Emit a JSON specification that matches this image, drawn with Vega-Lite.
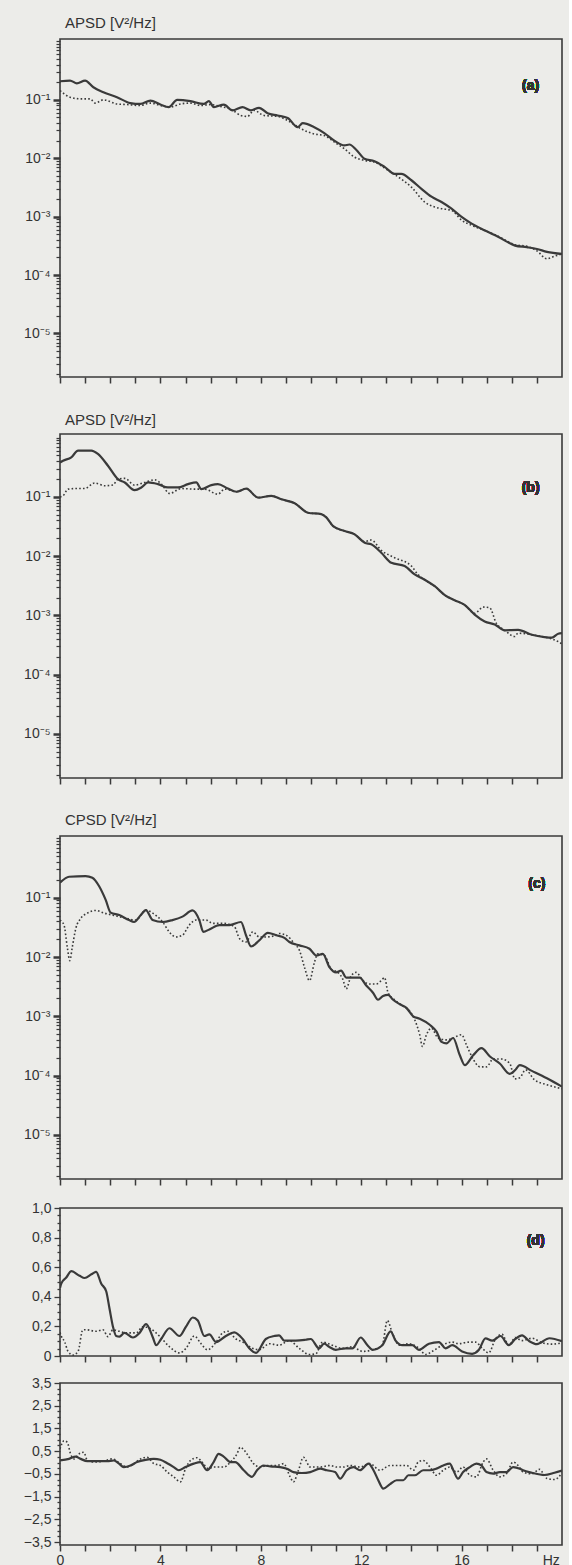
{
"$schema": "https://vega.github.io/schema/vega-lite/v6.json",
"background": "#ecece9",
"padding": {"top": 15, "left": 22, "right": 6, "bottom": 0},
"config": {
 "view": {"stroke": "#3a3a3a", "strokeWidth": 1.6},
 "axis": {"domain": false, "grid": false, "labelFont": "Liberation Sans", "labelFontSize": 14, "labelColor": "#333333", "tickColor": "#3a3a3a", "title": null, "labelPadding": 3},
 "title": {"font": "Liberation Sans", "fontSize": 15, "fontWeight": "normal", "anchor": "start", "frame": "group", "color": "#333333", "offset": 3, "dx": 5},
 "text": {"font": "Liberation Sans", "fontSize": 14, "fontWeight": "bold", "color": "#333333"}
},
"datasets": {
"a": [
{"f":0,"v":0.208,"s":"solid"},{"f":0.4,"v":0.214,"s":"solid"},{"f":0.67,"v":0.192,"s":"solid"},{"f":1.0,"v":0.214,"s":"solid"},{"f":1.33,"v":0.164,"s":"solid"},{"f":1.73,"v":0.135,"s":"solid"},{"f":2.27,"v":0.111,"s":"solid"},{"f":2.8,"v":0.088,"s":"solid"},{"f":3.2,"v":0.085,"s":"solid"},{"f":3.6,"v":0.097,"s":"solid"},{"f":4.0,"v":0.083,"s":"solid"},{"f":4.33,"v":0.075,"s":"solid"},{"f":4.67,"v":0.1,"s":"solid"},{"f":5.2,"v":0.095,"s":"solid"},{"f":5.73,"v":0.085,"s":"solid"},{"f":5.93,"v":0.095,"s":"solid"},{"f":6.13,"v":0.075,"s":"solid"},{"f":6.53,"v":0.083,"s":"solid"},{"f":6.87,"v":0.066,"s":"solid"},{"f":7.27,"v":0.075,"s":"solid"},{"f":7.6,"v":0.066,"s":"solid"},{"f":7.93,"v":0.073,"s":"solid"},{"f":8.27,"v":0.059,"s":"solid"},{"f":8.67,"v":0.054,"s":"solid"},{"f":9.07,"v":0.049,"s":"solid"},{"f":9.47,"v":0.034,"s":"solid"},{"f":9.67,"v":0.04,"s":"solid"},{"f":10.13,"v":0.034,"s":"solid"},{"f":10.53,"v":0.027,"s":"solid"},{"f":10.93,"v":0.02,"s":"solid"},{"f":11.33,"v":0.0166,"s":"solid"},{"f":11.53,"v":0.0172,"s":"solid"},{"f":11.8,"v":0.014,"s":"solid"},{"f":12.13,"v":0.0098,"s":"solid"},{"f":12.53,"v":0.0089,"s":"solid"},{"f":12.93,"v":0.0071,"s":"solid"},{"f":13.33,"v":0.0054,"s":"solid"},{"f":13.6,"v":0.0054,"s":"solid"},{"f":14.0,"v":0.0042,"s":"solid"},{"f":14.4,"v":0.003,"s":"solid"},{"f":14.8,"v":0.0022,"s":"solid"},{"f":15.2,"v":0.00178,"s":"solid"},{"f":15.6,"v":0.00137,"s":"solid"},{"f":16.0,"v":0.00099,"s":"solid"},{"f":16.4,"v":0.00076,"s":"solid"},{"f":16.93,"v":0.00058,"s":"solid"},{"f":17.47,"v":0.00045,"s":"solid"},{"f":18.13,"v":0.00032,"s":"solid"},{"f":18.6,"v":0.0003,"s":"solid"},{"f":19.0,"v":0.00028,"s":"solid"},{"f":19.4,"v":0.00025,"s":"solid"},{"f":20,"v":0.00023,"s":"solid"},
{"f":0,"v":0.144,"s":"dotted"},{"f":0.4,"v":0.111,"s":"dotted"},{"f":0.8,"v":0.104,"s":"dotted"},{"f":1.2,"v":0.104,"s":"dotted"},{"f":1.4,"v":0.088,"s":"dotted"},{"f":1.73,"v":0.1,"s":"dotted"},{"f":2.27,"v":0.085,"s":"dotted"},{"f":2.67,"v":0.083,"s":"dotted"},{"f":3.2,"v":0.08,"s":"dotted"},{"f":3.6,"v":0.088,"s":"dotted"},{"f":4.0,"v":0.08,"s":"dotted"},{"f":4.4,"v":0.075,"s":"dotted"},{"f":4.8,"v":0.085,"s":"dotted"},{"f":5.2,"v":0.088,"s":"dotted"},{"f":5.6,"v":0.08,"s":"dotted"},{"f":6.0,"v":0.083,"s":"dotted"},{"f":6.4,"v":0.077,"s":"dotted"},{"f":6.87,"v":0.067,"s":"dotted"},{"f":7.2,"v":0.054,"s":"dotted"},{"f":7.47,"v":0.052,"s":"dotted"},{"f":7.73,"v":0.066,"s":"dotted"},{"f":8.13,"v":0.054,"s":"dotted"},{"f":8.67,"v":0.052,"s":"dotted"},{"f":9.2,"v":0.041,"s":"dotted"},{"f":9.6,"v":0.032,"s":"dotted"},{"f":10.13,"v":0.026,"s":"dotted"},{"f":10.53,"v":0.0245,"s":"dotted"},{"f":10.93,"v":0.0189,"s":"dotted"},{"f":11.33,"v":0.0145,"s":"dotted"},{"f":11.73,"v":0.0105,"s":"dotted"},{"f":12.13,"v":0.0092,"s":"dotted"},{"f":12.53,"v":0.0086,"s":"dotted"},{"f":13.07,"v":0.0062,"s":"dotted"},{"f":13.47,"v":0.0048,"s":"dotted"},{"f":14.0,"v":0.0032,"s":"dotted"},{"f":14.53,"v":0.00178,"s":"dotted"},{"f":14.93,"v":0.00146,"s":"dotted"},{"f":15.2,"v":0.00137,"s":"dotted"},{"f":15.6,"v":0.00128,"s":"dotted"},{"f":16.0,"v":0.00087,"s":"dotted"},{"f":16.4,"v":0.00071,"s":"dotted"},{"f":16.93,"v":0.00058,"s":"dotted"},{"f":17.47,"v":0.00046,"s":"dotted"},{"f":18.13,"v":0.00033,"s":"dotted"},{"f":18.6,"v":0.00031,"s":"dotted"},{"f":19.0,"v":0.00026,"s":"dotted"},{"f":19.4,"v":0.00019,"s":"dotted"},{"f":19.7,"v":0.00021,"s":"dotted"},{"f":20,"v":0.00023,"s":"dotted"}
],
"b": [
{"f":0,"v":0.38,"s":"solid"},{"f":0.12,"v":0.407,"s":"solid"},{"f":0.45,"v":0.464,"s":"solid"},{"f":0.72,"v":0.603,"s":"solid"},{"f":1.25,"v":0.603,"s":"solid"},{"f":1.51,"v":0.529,"s":"solid"},{"f":1.91,"v":0.335,"s":"solid"},{"f":2.31,"v":0.199,"s":"solid"},{"f":2.58,"v":0.175,"s":"solid"},{"f":2.97,"v":0.13,"s":"solid"},{"f":3.24,"v":0.144,"s":"solid"},{"f":3.51,"v":0.175,"s":"solid"},{"f":3.9,"v":0.164,"s":"solid"},{"f":4.3,"v":0.144,"s":"solid"},{"f":4.7,"v":0.144,"s":"solid"},{"f":5.1,"v":0.164,"s":"solid"},{"f":5.43,"v":0.175,"s":"solid"},{"f":5.63,"v":0.135,"s":"solid"},{"f":6.03,"v":0.158,"s":"solid"},{"f":6.29,"v":0.164,"s":"solid"},{"f":6.69,"v":0.138,"s":"solid"},{"f":7.03,"v":0.122,"s":"solid"},{"f":7.42,"v":0.138,"s":"solid"},{"f":7.89,"v":0.097,"s":"solid"},{"f":8.42,"v":0.104,"s":"solid"},{"f":8.82,"v":0.091,"s":"solid"},{"f":9.35,"v":0.078,"s":"solid"},{"f":9.88,"v":0.054,"s":"solid"},{"f":10.41,"v":0.051,"s":"solid"},{"f":10.61,"v":0.045,"s":"solid"},{"f":10.88,"v":0.032,"s":"solid"},{"f":11.34,"v":0.0265,"s":"solid"},{"f":11.74,"v":0.0233,"s":"solid"},{"f":12.14,"v":0.0168,"s":"solid"},{"f":12.4,"v":0.0158,"s":"solid"},{"f":12.8,"v":0.0114,"s":"solid"},{"f":13.2,"v":0.0077,"s":"solid"},{"f":13.73,"v":0.0068,"s":"solid"},{"f":14.13,"v":0.0049,"s":"solid"},{"f":14.53,"v":0.004,"s":"solid"},{"f":14.93,"v":0.0031,"s":"solid"},{"f":15.33,"v":0.0022,"s":"solid"},{"f":15.72,"v":0.0018,"s":"solid"},{"f":16.12,"v":0.0015,"s":"solid"},{"f":16.52,"v":0.00103,"s":"solid"},{"f":16.92,"v":0.00079,"s":"solid"},{"f":17.32,"v":0.0007,"s":"solid"},{"f":17.72,"v":0.00056,"s":"solid"},{"f":18.25,"v":0.00057,"s":"solid"},{"f":18.8,"v":0.00047,"s":"solid"},{"f":19.3,"v":0.00043,"s":"solid"},{"f":19.6,"v":0.00042,"s":"solid"},{"f":19.85,"v":0.00049,"s":"solid"},{"f":20,"v":0.0005,"s":"solid"},
{"f":0,"v":0.1,"s":"dotted"},{"f":0.12,"v":0.104,"s":"dotted"},{"f":0.32,"v":0.135,"s":"dotted"},{"f":0.58,"v":0.138,"s":"dotted"},{"f":0.98,"v":0.138,"s":"dotted"},{"f":1.38,"v":0.171,"s":"dotted"},{"f":1.78,"v":0.154,"s":"dotted"},{"f":2.11,"v":0.158,"s":"dotted"},{"f":2.31,"v":0.199,"s":"dotted"},{"f":2.58,"v":0.205,"s":"dotted"},{"f":2.97,"v":0.158,"s":"dotted"},{"f":3.37,"v":0.175,"s":"dotted"},{"f":3.77,"v":0.194,"s":"dotted"},{"f":4.04,"v":0.164,"s":"dotted"},{"f":4.37,"v":0.114,"s":"dotted"},{"f":4.83,"v":0.138,"s":"dotted"},{"f":5.37,"v":0.135,"s":"dotted"},{"f":5.76,"v":0.135,"s":"dotted"},{"f":6.29,"v":0.111,"s":"dotted"},{"f":6.56,"v":0.135,"s":"dotted"},{"f":7.03,"v":0.122,"s":"dotted"},{"f":7.42,"v":0.138,"s":"dotted"},{"f":7.89,"v":0.097,"s":"dotted"},{"f":8.42,"v":0.104,"s":"dotted"},{"f":8.82,"v":0.091,"s":"dotted"},{"f":9.35,"v":0.078,"s":"dotted"},{"f":9.88,"v":0.054,"s":"dotted"},{"f":10.41,"v":0.051,"s":"dotted"},{"f":10.61,"v":0.045,"s":"dotted"},{"f":10.88,"v":0.032,"s":"dotted"},{"f":11.34,"v":0.0265,"s":"dotted"},{"f":11.74,"v":0.0233,"s":"dotted"},{"f":12.14,"v":0.0175,"s":"dotted"},{"f":12.4,"v":0.0187,"s":"dotted"},{"f":12.8,"v":0.0125,"s":"dotted"},{"f":13.33,"v":0.0094,"s":"dotted"},{"f":14.0,"v":0.0068,"s":"dotted"},{"f":14.26,"v":0.0049,"s":"dotted"},{"f":14.53,"v":0.004,"s":"dotted"},{"f":14.93,"v":0.0031,"s":"dotted"},{"f":15.33,"v":0.0022,"s":"dotted"},{"f":15.72,"v":0.0018,"s":"dotted"},{"f":16.12,"v":0.0015,"s":"dotted"},{"f":16.52,"v":0.00108,"s":"dotted"},{"f":16.65,"v":0.00117,"s":"dotted"},{"f":16.85,"v":0.00138,"s":"dotted"},{"f":17.12,"v":0.00134,"s":"dotted"},{"f":17.38,"v":0.00074,"s":"dotted"},{"f":17.72,"v":0.00056,"s":"dotted"},{"f":18.11,"v":0.00044,"s":"dotted"},{"f":18.25,"v":0.0005,"s":"dotted"},{"f":18.8,"v":0.00047,"s":"dotted"},{"f":19.3,"v":0.00043,"s":"dotted"},{"f":19.6,"v":0.0004,"s":"dotted"},{"f":19.85,"v":0.00036,"s":"dotted"},{"f":20,"v":0.00033,"s":"dotted"}
],
"c": [
{"f":0,"v":0.18,"s":"solid"},{"f":0.36,"v":0.226,"s":"solid"},{"f":1.02,"v":0.232,"s":"solid"},{"f":1.29,"v":0.217,"s":"solid"},{"f":1.56,"v":0.156,"s":"solid"},{"f":1.82,"v":0.092,"s":"solid"},{"f":2.02,"v":0.056,"s":"solid"},{"f":2.36,"v":0.051,"s":"solid"},{"f":2.75,"v":0.042,"s":"solid"},{"f":2.95,"v":0.039,"s":"solid"},{"f":3.22,"v":0.051,"s":"solid"},{"f":3.42,"v":0.062,"s":"solid"},{"f":3.69,"v":0.042,"s":"solid"},{"f":4.09,"v":0.039,"s":"solid"},{"f":4.48,"v":0.042,"s":"solid"},{"f":4.88,"v":0.048,"s":"solid"},{"f":5.28,"v":0.061,"s":"solid"},{"f":5.55,"v":0.042,"s":"solid"},{"f":5.71,"v":0.0266,"s":"solid"},{"f":5.95,"v":0.0292,"s":"solid"},{"f":6.35,"v":0.0346,"s":"solid"},{"f":6.75,"v":0.0346,"s":"solid"},{"f":7.21,"v":0.039,"s":"solid"},{"f":7.41,"v":0.0233,"s":"solid"},{"f":7.61,"v":0.0151,"s":"solid"},{"f":7.94,"v":0.0191,"s":"solid"},{"f":8.28,"v":0.0256,"s":"solid"},{"f":8.61,"v":0.0233,"s":"solid"},{"f":8.94,"v":0.021,"s":"solid"},{"f":9.14,"v":0.0179,"s":"solid"},{"f":9.54,"v":0.0157,"s":"solid"},{"f":9.94,"v":0.0138,"s":"solid"},{"f":10.21,"v":0.0106,"s":"solid"},{"f":10.47,"v":0.0113,"s":"solid"},{"f":10.74,"v":0.0067,"s":"solid"},{"f":11.0,"v":0.0055,"s":"solid"},{"f":11.2,"v":0.0059,"s":"solid"},{"f":11.4,"v":0.0045,"s":"solid"},{"f":11.67,"v":0.0045,"s":"solid"},{"f":11.94,"v":0.0045,"s":"solid"},{"f":12.2,"v":0.0033,"s":"solid"},{"f":12.47,"v":0.0025,"s":"solid"},{"f":12.67,"v":0.0019,"s":"solid"},{"f":12.87,"v":0.0022,"s":"solid"},{"f":13.07,"v":0.0023,"s":"solid"},{"f":13.27,"v":0.0019,"s":"solid"},{"f":13.54,"v":0.0016,"s":"solid"},{"f":13.8,"v":0.00139,"s":"solid"},{"f":14.07,"v":0.001,"s":"solid"},{"f":14.33,"v":0.00091,"s":"solid"},{"f":14.73,"v":0.00072,"s":"solid"},{"f":15.0,"v":0.00055,"s":"solid"},{"f":15.2,"v":0.00037,"s":"solid"},{"f":15.4,"v":0.00035,"s":"solid"},{"f":15.66,"v":0.00043,"s":"solid"},{"f":15.93,"v":0.00022,"s":"solid"},{"f":16.13,"v":0.00015,"s":"solid"},{"f":16.46,"v":0.00022,"s":"solid"},{"f":16.79,"v":0.00029,"s":"solid"},{"f":17.13,"v":0.00021,"s":"solid"},{"f":17.52,"v":0.00016,"s":"solid"},{"f":17.92,"v":0.000107,"s":"solid"},{"f":18.12,"v":0.000122,"s":"solid"},{"f":18.32,"v":0.00015,"s":"solid"},{"f":18.8,"v":0.00012,"s":"solid"},{"f":19.4,"v":0.00009,"s":"solid"},{"f":20,"v":0.000065,"s":"solid"},
{"f":0,"v":0.042,"s":"dotted"},{"f":0.16,"v":0.0346,"s":"dotted"},{"f":0.29,"v":0.0147,"s":"dotted"},{"f":0.39,"v":0.0087,"s":"dotted"},{"f":0.49,"v":0.0147,"s":"dotted"},{"f":0.63,"v":0.0303,"s":"dotted"},{"f":0.83,"v":0.045,"s":"dotted"},{"f":1.09,"v":0.055,"s":"dotted"},{"f":1.42,"v":0.061,"s":"dotted"},{"f":1.76,"v":0.055,"s":"dotted"},{"f":2.09,"v":0.051,"s":"dotted"},{"f":2.62,"v":0.045,"s":"dotted"},{"f":3.02,"v":0.042,"s":"dotted"},{"f":3.42,"v":0.062,"s":"dotted"},{"f":3.69,"v":0.055,"s":"dotted"},{"f":4.09,"v":0.039,"s":"dotted"},{"f":4.35,"v":0.0266,"s":"dotted"},{"f":4.62,"v":0.0218,"s":"dotted"},{"f":4.88,"v":0.0233,"s":"dotted"},{"f":5.15,"v":0.0346,"s":"dotted"},{"f":5.42,"v":0.042,"s":"dotted"},{"f":5.82,"v":0.042,"s":"dotted"},{"f":6.08,"v":0.037,"s":"dotted"},{"f":6.48,"v":0.037,"s":"dotted"},{"f":6.95,"v":0.0324,"s":"dotted"},{"f":7.15,"v":0.0205,"s":"dotted"},{"f":7.41,"v":0.0179,"s":"dotted"},{"f":7.68,"v":0.0266,"s":"dotted"},{"f":7.94,"v":0.0218,"s":"dotted"},{"f":8.21,"v":0.0218,"s":"dotted"},{"f":8.61,"v":0.0233,"s":"dotted"},{"f":8.74,"v":0.0249,"s":"dotted"},{"f":9.01,"v":0.0233,"s":"dotted"},{"f":9.34,"v":0.0168,"s":"dotted"},{"f":9.54,"v":0.0129,"s":"dotted"},{"f":9.74,"v":0.0067,"s":"dotted"},{"f":9.94,"v":0.004,"s":"dotted"},{"f":10.14,"v":0.0082,"s":"dotted"},{"f":10.27,"v":0.0113,"s":"dotted"},{"f":10.54,"v":0.0106,"s":"dotted"},{"f":10.8,"v":0.0063,"s":"dotted"},{"f":11.07,"v":0.0055,"s":"dotted"},{"f":11.27,"v":0.0042,"s":"dotted"},{"f":11.4,"v":0.0029,"s":"dotted"},{"f":11.6,"v":0.0048,"s":"dotted"},{"f":11.8,"v":0.0055,"s":"dotted"},{"f":12.07,"v":0.004,"s":"dotted"},{"f":12.34,"v":0.0035,"s":"dotted"},{"f":12.6,"v":0.0035,"s":"dotted"},{"f":12.8,"v":0.004,"s":"dotted"},{"f":12.93,"v":0.0045,"s":"dotted"},{"f":13.07,"v":0.0025,"s":"dotted"},{"f":13.33,"v":0.0019,"s":"dotted"},{"f":13.67,"v":0.00148,"s":"dotted"},{"f":13.94,"v":0.00122,"s":"dotted"},{"f":14.13,"v":0.00088,"s":"dotted"},{"f":14.33,"v":0.00049,"s":"dotted"},{"f":14.44,"v":0.00031,"s":"dotted"},{"f":14.6,"v":0.00049,"s":"dotted"},{"f":14.8,"v":0.00063,"s":"dotted"},{"f":15.06,"v":0.00043,"s":"dotted"},{"f":15.4,"v":0.0004,"s":"dotted"},{"f":15.66,"v":0.00043,"s":"dotted"},{"f":16.0,"v":0.00049,"s":"dotted"},{"f":16.19,"v":0.00033,"s":"dotted"},{"f":16.46,"v":0.00019,"s":"dotted"},{"f":16.73,"v":0.00014,"s":"dotted"},{"f":16.99,"v":0.00014,"s":"dotted"},{"f":17.26,"v":0.00019,"s":"dotted"},{"f":17.59,"v":0.00019,"s":"dotted"},{"f":17.92,"v":0.00016,"s":"dotted"},{"f":18.12,"v":0.000088,"s":"dotted"},{"f":18.32,"v":0.000092,"s":"dotted"},{"f":18.55,"v":0.000125,"s":"dotted"},{"f":18.9,"v":0.000085,"s":"dotted"},{"f":19.4,"v":0.00007,"s":"dotted"},{"f":20,"v":0.00006,"s":"dotted"}
],
"d": [
{"f":0,"v":0.46,"s":"solid"},{"f":0.05,"v":0.49,"s":"solid"},{"f":0.25,"v":0.53,"s":"solid"},{"f":0.45,"v":0.573,"s":"solid"},{"f":0.78,"v":0.542,"s":"solid"},{"f":0.98,"v":0.527,"s":"solid"},{"f":1.25,"v":0.552,"s":"solid"},{"f":1.44,"v":0.569,"s":"solid"},{"f":1.64,"v":0.49,"s":"solid"},{"f":1.84,"v":0.4375,"s":"solid"},{"f":1.97,"v":0.323,"s":"solid"},{"f":2.11,"v":0.198,"s":"solid"},{"f":2.24,"v":0.135,"s":"solid"},{"f":2.37,"v":0.131,"s":"solid"},{"f":2.57,"v":0.156,"s":"solid"},{"f":2.9,"v":0.125,"s":"solid"},{"f":3.17,"v":0.156,"s":"solid"},{"f":3.43,"v":0.215,"s":"solid"},{"f":3.7,"v":0.125,"s":"solid"},{"f":3.83,"v":0.073,"s":"solid"},{"f":4.03,"v":0.115,"s":"solid"},{"f":4.36,"v":0.1875,"s":"solid"},{"f":4.76,"v":0.135,"s":"solid"},{"f":5.02,"v":0.198,"s":"solid"},{"f":5.29,"v":0.26,"s":"solid"},{"f":5.49,"v":0.24,"s":"solid"},{"f":5.75,"v":0.135,"s":"solid"},{"f":5.95,"v":0.146,"s":"solid"},{"f":6.22,"v":0.094,"s":"solid"},{"f":6.61,"v":0.135,"s":"solid"},{"f":6.94,"v":0.16,"s":"solid"},{"f":7.28,"v":0.115,"s":"solid"},{"f":7.54,"v":0.052,"s":"solid"},{"f":7.81,"v":0.021,"s":"solid"},{"f":8.2,"v":0.115,"s":"solid"},{"f":8.54,"v":0.135,"s":"solid"},{"f":8.73,"v":0.14,"s":"solid"},{"f":8.93,"v":0.104,"s":"solid"},{"f":9.4,"v":0.104,"s":"solid"},{"f":9.79,"v":0.11,"s":"solid"},{"f":9.99,"v":0.115,"s":"solid"},{"f":10.32,"v":0.052,"s":"solid"},{"f":10.52,"v":0.083,"s":"solid"},{"f":10.72,"v":0.0625,"s":"solid"},{"f":10.99,"v":0.042,"s":"solid"},{"f":11.38,"v":0.052,"s":"solid"},{"f":11.65,"v":0.052,"s":"solid"},{"f":11.98,"v":0.125,"s":"solid"},{"f":12.25,"v":0.073,"s":"solid"},{"f":12.45,"v":0.042,"s":"solid"},{"f":12.84,"v":0.073,"s":"solid"},{"f":13.17,"v":0.167,"s":"solid"},{"f":13.37,"v":0.104,"s":"solid"},{"f":13.64,"v":0.073,"s":"solid"},{"f":14.04,"v":0.073,"s":"solid"},{"f":14.3,"v":0.042,"s":"solid"},{"f":14.7,"v":0.083,"s":"solid"},{"f":15.1,"v":0.094,"s":"solid"},{"f":15.36,"v":0.052,"s":"solid"},{"f":15.63,"v":0.073,"s":"solid"},{"f":16.02,"v":0.031,"s":"solid"},{"f":16.42,"v":0.015,"s":"solid"},{"f":16.69,"v":0.042,"s":"solid"},{"f":16.95,"v":0.119,"s":"solid"},{"f":17.22,"v":0.104,"s":"solid"},{"f":17.55,"v":0.135,"s":"solid"},{"f":17.88,"v":0.073,"s":"solid"},{"f":18.14,"v":0.115,"s":"solid"},{"f":18.41,"v":0.14,"s":"solid"},{"f":18.7,"v":0.1,"s":"solid"},{"f":19.0,"v":0.08,"s":"solid"},{"f":19.5,"v":0.12,"s":"solid"},{"f":20,"v":0.1,"s":"solid"},
{"f":0,"v":0.16,"s":"dotted"},{"f":0.05,"v":0.135,"s":"dotted"},{"f":0.19,"v":0.094,"s":"dotted"},{"f":0.32,"v":0.031,"s":"dotted"},{"f":0.52,"v":0.006,"s":"dotted"},{"f":0.72,"v":0.031,"s":"dotted"},{"f":0.91,"v":0.177,"s":"dotted"},{"f":1.05,"v":0.177,"s":"dotted"},{"f":1.44,"v":0.167,"s":"dotted"},{"f":1.71,"v":0.177,"s":"dotted"},{"f":1.91,"v":0.131,"s":"dotted"},{"f":2.11,"v":0.177,"s":"dotted"},{"f":2.37,"v":0.167,"s":"dotted"},{"f":2.64,"v":0.156,"s":"dotted"},{"f":3.04,"v":0.156,"s":"dotted"},{"f":3.3,"v":0.198,"s":"dotted"},{"f":3.57,"v":0.1875,"s":"dotted"},{"f":3.96,"v":0.135,"s":"dotted"},{"f":4.36,"v":0.0625,"s":"dotted"},{"f":4.76,"v":0.021,"s":"dotted"},{"f":5.02,"v":0.052,"s":"dotted"},{"f":5.35,"v":0.135,"s":"dotted"},{"f":5.62,"v":0.083,"s":"dotted"},{"f":5.88,"v":0.042,"s":"dotted"},{"f":6.22,"v":0.094,"s":"dotted"},{"f":6.48,"v":0.156,"s":"dotted"},{"f":6.68,"v":0.167,"s":"dotted"},{"f":7.01,"v":0.115,"s":"dotted"},{"f":7.28,"v":0.094,"s":"dotted"},{"f":7.67,"v":0.052,"s":"dotted"},{"f":7.94,"v":0.042,"s":"dotted"},{"f":8.34,"v":0.083,"s":"dotted"},{"f":8.73,"v":0.073,"s":"dotted"},{"f":9.13,"v":0.104,"s":"dotted"},{"f":9.53,"v":0.052,"s":"dotted"},{"f":9.93,"v":0.01,"s":"dotted"},{"f":10.19,"v":0.015,"s":"dotted"},{"f":10.46,"v":0.094,"s":"dotted"},{"f":10.85,"v":0.073,"s":"dotted"},{"f":11.25,"v":0.052,"s":"dotted"},{"f":11.65,"v":0.0625,"s":"dotted"},{"f":12.05,"v":0.031,"s":"dotted"},{"f":12.45,"v":0.042,"s":"dotted"},{"f":12.84,"v":0.073,"s":"dotted"},{"f":13.04,"v":0.24,"s":"dotted"},{"f":13.24,"v":0.156,"s":"dotted"},{"f":13.51,"v":0.073,"s":"dotted"},{"f":13.9,"v":0.083,"s":"dotted"},{"f":14.3,"v":0.052,"s":"dotted"},{"f":14.57,"v":0.01,"s":"dotted"},{"f":14.83,"v":0.031,"s":"dotted"},{"f":15.23,"v":0.073,"s":"dotted"},{"f":15.63,"v":0.094,"s":"dotted"},{"f":15.89,"v":0.083,"s":"dotted"},{"f":16.29,"v":0.094,"s":"dotted"},{"f":16.55,"v":0.094,"s":"dotted"},{"f":16.82,"v":0.052,"s":"dotted"},{"f":17.08,"v":0.021,"s":"dotted"},{"f":17.35,"v":0.115,"s":"dotted"},{"f":17.61,"v":0.146,"s":"dotted"},{"f":17.88,"v":0.073,"s":"dotted"},{"f":18.14,"v":0.125,"s":"dotted"},{"f":18.41,"v":0.104,"s":"dotted"},{"f":18.8,"v":0.12,"s":"dotted"},{"f":19.2,"v":0.09,"s":"dotted"},{"f":19.6,"v":0.08,"s":"dotted"},{"f":20,"v":0.09,"s":"dotted"}
],
"e": [
{"f":0,"v":0.09,"s":"solid"},{"f":0.36,"v":0.16,"s":"solid"},{"f":0.62,"v":0.26,"s":"solid"},{"f":0.82,"v":0.16,"s":"solid"},{"f":1.09,"v":0.06,"s":"solid"},{"f":1.48,"v":0.06,"s":"solid"},{"f":1.88,"v":0.06,"s":"solid"},{"f":2.15,"v":0.09,"s":"solid"},{"f":2.35,"v":-0.05,"s":"solid"},{"f":2.54,"v":-0.2,"s":"solid"},{"f":2.81,"v":-0.13,"s":"solid"},{"f":3.07,"v":0.02,"s":"solid"},{"f":3.41,"v":0.12,"s":"solid"},{"f":3.74,"v":0.16,"s":"solid"},{"f":4.0,"v":0.12,"s":"solid"},{"f":4.27,"v":-0.03,"s":"solid"},{"f":4.53,"v":-0.2,"s":"solid"},{"f":4.73,"v":-0.34,"s":"solid"},{"f":5.0,"v":-0.2,"s":"solid"},{"f":5.33,"v":-0.05,"s":"solid"},{"f":5.59,"v":0.02,"s":"solid"},{"f":5.86,"v":-0.34,"s":"solid"},{"f":6.12,"v":0.02,"s":"solid"},{"f":6.32,"v":0.38,"s":"solid"},{"f":6.52,"v":0.26,"s":"solid"},{"f":6.79,"v":0.02,"s":"solid"},{"f":6.98,"v":0.02,"s":"solid"},{"f":7.32,"v":-0.34,"s":"solid"},{"f":7.65,"v":-0.63,"s":"solid"},{"f":7.85,"v":-0.34,"s":"solid"},{"f":8.11,"v":-0.13,"s":"solid"},{"f":8.38,"v":-0.17,"s":"solid"},{"f":8.77,"v":-0.2,"s":"solid"},{"f":9.04,"v":-0.27,"s":"solid"},{"f":9.3,"v":-0.42,"s":"solid"},{"f":9.64,"v":-0.46,"s":"solid"},{"f":9.97,"v":-0.42,"s":"solid"},{"f":10.36,"v":-0.27,"s":"solid"},{"f":10.63,"v":-0.34,"s":"solid"},{"f":10.96,"v":-0.42,"s":"solid"},{"f":11.16,"v":-0.71,"s":"solid"},{"f":11.42,"v":-0.34,"s":"solid"},{"f":11.69,"v":-0.2,"s":"solid"},{"f":11.95,"v":-0.34,"s":"solid"},{"f":12.29,"v":-0.05,"s":"solid"},{"f":12.49,"v":-0.34,"s":"solid"},{"f":12.68,"v":-0.78,"s":"solid"},{"f":12.88,"v":-1.15,"s":"solid"},{"f":13.15,"v":-0.95,"s":"solid"},{"f":13.41,"v":-0.78,"s":"solid"},{"f":13.68,"v":-0.78,"s":"solid"},{"f":13.88,"v":-0.56,"s":"solid"},{"f":14.14,"v":-0.56,"s":"solid"},{"f":14.47,"v":-0.34,"s":"solid"},{"f":14.74,"v":-0.34,"s":"solid"},{"f":15.0,"v":-0.27,"s":"solid"},{"f":15.27,"v":-0.13,"s":"solid"},{"f":15.53,"v":-0.05,"s":"solid"},{"f":15.67,"v":-0.34,"s":"solid"},{"f":15.86,"v":-0.71,"s":"solid"},{"f":16.06,"v":-0.42,"s":"solid"},{"f":16.33,"v":-0.2,"s":"solid"},{"f":16.59,"v":-0.05,"s":"solid"},{"f":16.79,"v":-0.13,"s":"solid"},{"f":16.99,"v":-0.42,"s":"solid"},{"f":17.26,"v":-0.49,"s":"solid"},{"f":17.52,"v":-0.42,"s":"solid"},{"f":17.79,"v":-0.42,"s":"solid"},{"f":18.05,"v":-0.2,"s":"solid"},{"f":18.32,"v":-0.27,"s":"solid"},{"f":18.45,"v":-0.34,"s":"solid"},{"f":18.8,"v":-0.45,"s":"solid"},{"f":19.3,"v":-0.55,"s":"solid"},{"f":19.7,"v":-0.45,"s":"solid"},{"f":20,"v":-0.35,"s":"solid"},
{"f":0,"v":0.6,"s":"dotted"},{"f":0.16,"v":0.96,"s":"dotted"},{"f":0.29,"v":0.89,"s":"dotted"},{"f":0.42,"v":0.38,"s":"dotted"},{"f":0.56,"v":0.16,"s":"dotted"},{"f":0.76,"v":0.38,"s":"dotted"},{"f":0.95,"v":0.45,"s":"dotted"},{"f":1.09,"v":0.09,"s":"dotted"},{"f":1.35,"v":0.02,"s":"dotted"},{"f":1.75,"v":0.06,"s":"dotted"},{"f":2.08,"v":0.16,"s":"dotted"},{"f":2.41,"v":-0.05,"s":"dotted"},{"f":2.68,"v":-0.2,"s":"dotted"},{"f":2.94,"v":-0.05,"s":"dotted"},{"f":3.21,"v":0.16,"s":"dotted"},{"f":3.47,"v":0.23,"s":"dotted"},{"f":3.74,"v":-0.05,"s":"dotted"},{"f":4.0,"v":-0.13,"s":"dotted"},{"f":4.27,"v":-0.42,"s":"dotted"},{"f":4.53,"v":-0.63,"s":"dotted"},{"f":4.8,"v":-0.85,"s":"dotted"},{"f":5.0,"v":-0.27,"s":"dotted"},{"f":5.2,"v":0.09,"s":"dotted"},{"f":5.46,"v":0.21,"s":"dotted"},{"f":5.66,"v":0.02,"s":"dotted"},{"f":5.92,"v":-0.27,"s":"dotted"},{"f":6.12,"v":-0.2,"s":"dotted"},{"f":6.52,"v":-0.2,"s":"dotted"},{"f":6.79,"v":0.02,"s":"dotted"},{"f":7.05,"v":0.38,"s":"dotted"},{"f":7.18,"v":0.67,"s":"dotted"},{"f":7.45,"v":0.38,"s":"dotted"},{"f":7.71,"v":-0.05,"s":"dotted"},{"f":7.98,"v":-0.2,"s":"dotted"},{"f":8.24,"v":-0.13,"s":"dotted"},{"f":8.64,"v":-0.13,"s":"dotted"},{"f":8.91,"v":-0.05,"s":"dotted"},{"f":9.17,"v":-0.63,"s":"dotted"},{"f":9.3,"v":-0.85,"s":"dotted"},{"f":9.5,"v":-0.34,"s":"dotted"},{"f":9.7,"v":0.23,"s":"dotted"},{"f":9.97,"v":-0.2,"s":"dotted"},{"f":10.36,"v":-0.2,"s":"dotted"},{"f":10.76,"v":-0.13,"s":"dotted"},{"f":11.03,"v":-0.2,"s":"dotted"},{"f":11.29,"v":-0.2,"s":"dotted"},{"f":11.56,"v":-0.13,"s":"dotted"},{"f":11.95,"v":-0.2,"s":"dotted"},{"f":12.35,"v":-0.05,"s":"dotted"},{"f":12.75,"v":-0.34,"s":"dotted"},{"f":13.15,"v":-0.13,"s":"dotted"},{"f":13.55,"v":-0.13,"s":"dotted"},{"f":13.81,"v":-0.13,"s":"dotted"},{"f":14.08,"v":-0.34,"s":"dotted"},{"f":14.27,"v":0.02,"s":"dotted"},{"f":14.47,"v":0.09,"s":"dotted"},{"f":14.74,"v":-0.2,"s":"dotted"},{"f":15.0,"v":-0.56,"s":"dotted"},{"f":15.27,"v":-0.34,"s":"dotted"},{"f":15.53,"v":-0.2,"s":"dotted"},{"f":15.8,"v":-0.42,"s":"dotted"},{"f":16.06,"v":-0.2,"s":"dotted"},{"f":16.33,"v":-0.56,"s":"dotted"},{"f":16.59,"v":-0.63,"s":"dotted"},{"f":16.86,"v":0.02,"s":"dotted"},{"f":16.99,"v":0.16,"s":"dotted"},{"f":17.26,"v":-0.34,"s":"dotted"},{"f":17.52,"v":-0.63,"s":"dotted"},{"f":17.79,"v":-0.49,"s":"dotted"},{"f":18.05,"v":0.02,"s":"dotted"},{"f":18.25,"v":-0.13,"s":"dotted"},{"f":18.45,"v":-0.42,"s":"dotted"},{"f":18.8,"v":-0.5,"s":"dotted"},{"f":19.1,"v":-0.3,"s":"dotted"},{"f":19.4,"v":-0.7,"s":"dotted"},{"f":19.7,"v":-0.75,"s":"dotted"},{"f":20,"v":-0.45,"s":"dotted"}
]
},
"spacing": 13,
"vconcat": [
{"spacing": 26, "vconcat": [
 {"title": "APSD [V²/Hz]", "width": 502, "height": 338, "data": {"name": "a"},
  "encoding": {
   "x": {"field": "f", "type": "quantitative", "scale": {"domain": [0, 20], "nice": false, "zero": false}, "axis": {"values": [0,1,2,3,4,5,6,7,8,9,10,11,12,13,14,15,16,17,18,19], "labels": false, "tickSize": 6, "tickWidth": 1.5}},
   "y": {"field": "v", "type": "quantitative", "scale": {"type": "log", "domain": [0.0000018, 1.1], "nice": false}, "axis": {"values": [0.000002,0.000003,0.000004,0.000005,0.000006,0.000007,0.000008,0.000009,0.00001,0.00002,0.00003,0.00004,0.00005,0.00006,0.00007,0.00008,0.00009,0.0001,0.0002,0.0003,0.0004,0.0005,0.0006,0.0007,0.0008,0.0009,0.001,0.002,0.003,0.004,0.005,0.006,0.007,0.008,0.009,0.01,0.02,0.03,0.04,0.05,0.06,0.07,0.08,0.09,0.1,0.2,0.3,0.4,0.5,0.6,0.7,0.8,0.9,1], "labelOverlap": false, "labelExpr": "datum.value==0.1?'10⁻¹':datum.value==0.01?'10⁻²':datum.value==0.001?'10⁻³':datum.value==0.0001?'10⁻⁴':datum.value==0.00001?'10⁻⁵':''", "tickSize": {"condition": {"test": "datum.value==0.1||datum.value==0.01||datum.value==0.001||datum.value==0.0001||datum.value==0.00001", "value": 7}, "value": 4}, "tickWidth": {"condition": {"test": "datum.value==0.1||datum.value==0.01||datum.value==0.001||datum.value==0.0001||datum.value==0.00001", "value": 2.5}, "value": 1.2}}}
  },
  "layer": [
   {"transform": [{"filter": "datum.s == 'solid'"}], "mark": {"type": "line", "color": "#3a3a3a", "strokeWidth": 2.2, "interpolate": "monotone", "clip": true}},
   {"transform": [{"filter": "datum.s == 'dotted'"}], "mark": {"type": "line", "color": "#3a3a3a", "strokeWidth": 1.6, "strokeDash": [1.6, 2.2], "interpolate": "monotone", "clip": true}},
   {"mark": {"type": "text", "align": "center", "baseline": "middle"}, "encoding": {"x": {"datum": 18.75}, "y": {"datum": 0.17}, "text": {"value": "(a)"}}}
  ]
 },
 {"title": "APSD [V²/Hz]", "width": 502, "height": 344, "data": {"name": "b"},
  "encoding": {
   "x": {"field": "f", "type": "quantitative", "scale": {"domain": [0, 20], "nice": false, "zero": false}, "axis": {"values": [0,1,2,3,4,5,6,7,8,9,10,11,12,13,14,15,16,17,18,19], "labels": false, "tickSize": 6, "tickWidth": 1.5}},
   "y": {"field": "v", "type": "quantitative", "scale": {"type": "log", "domain": [0.0000018, 1.15], "nice": false}, "axis": {"values": [0.000002,0.000003,0.000004,0.000005,0.000006,0.000007,0.000008,0.000009,0.00001,0.00002,0.00003,0.00004,0.00005,0.00006,0.00007,0.00008,0.00009,0.0001,0.0002,0.0003,0.0004,0.0005,0.0006,0.0007,0.0008,0.0009,0.001,0.002,0.003,0.004,0.005,0.006,0.007,0.008,0.009,0.01,0.02,0.03,0.04,0.05,0.06,0.07,0.08,0.09,0.1,0.2,0.3,0.4,0.5,0.6,0.7,0.8,0.9,1], "labelOverlap": false, "labelExpr": "datum.value==0.1?'10⁻¹':datum.value==0.01?'10⁻²':datum.value==0.001?'10⁻³':datum.value==0.0001?'10⁻⁴':datum.value==0.00001?'10⁻⁵':''", "tickSize": {"condition": {"test": "datum.value==0.1||datum.value==0.01||datum.value==0.001||datum.value==0.0001||datum.value==0.00001", "value": 7}, "value": 4}, "tickWidth": {"condition": {"test": "datum.value==0.1||datum.value==0.01||datum.value==0.001||datum.value==0.0001||datum.value==0.00001", "value": 2.5}, "value": 1.2}}}
  },
  "layer": [
   {"transform": [{"filter": "datum.s == 'solid'"}], "mark": {"type": "line", "color": "#3a3a3a", "strokeWidth": 2.2, "interpolate": "monotone", "clip": true}},
   {"transform": [{"filter": "datum.s == 'dotted'"}], "mark": {"type": "line", "color": "#3a3a3a", "strokeWidth": 1.6, "strokeDash": [1.6, 2.2], "interpolate": "monotone", "clip": true}},
   {"mark": {"type": "text", "align": "center", "baseline": "middle"}, "encoding": {"x": {"datum": 18.75}, "y": {"datum": 0.14}, "text": {"value": "(b)"}}}
  ]
 },
 {"title": "CPSD [V²/Hz]", "width": 502, "height": 343, "data": {"name": "c"},
  "encoding": {
   "x": {"field": "f", "type": "quantitative", "scale": {"domain": [0, 20], "nice": false, "zero": false}, "axis": {"values": [0,1,2,3,4,5,6,7,8,9,10,11,12,13,14,15,16,17,18,19], "labels": false, "tickSize": 6, "tickWidth": 1.5}},
   "y": {"field": "v", "type": "quantitative", "scale": {"type": "log", "domain": [0.0000018, 1.1], "nice": false}, "axis": {"values": [0.000002,0.000003,0.000004,0.000005,0.000006,0.000007,0.000008,0.000009,0.00001,0.00002,0.00003,0.00004,0.00005,0.00006,0.00007,0.00008,0.00009,0.0001,0.0002,0.0003,0.0004,0.0005,0.0006,0.0007,0.0008,0.0009,0.001,0.002,0.003,0.004,0.005,0.006,0.007,0.008,0.009,0.01,0.02,0.03,0.04,0.05,0.06,0.07,0.08,0.09,0.1,0.2,0.3,0.4,0.5,0.6,0.7,0.8,0.9,1], "labelOverlap": false, "labelExpr": "datum.value==0.1?'10⁻¹':datum.value==0.01?'10⁻²':datum.value==0.001?'10⁻³':datum.value==0.0001?'10⁻⁴':datum.value==0.00001?'10⁻⁵':''", "tickSize": {"condition": {"test": "datum.value==0.1||datum.value==0.01||datum.value==0.001||datum.value==0.0001||datum.value==0.00001", "value": 7}, "value": 4}, "tickWidth": {"condition": {"test": "datum.value==0.1||datum.value==0.01||datum.value==0.001||datum.value==0.0001||datum.value==0.00001", "value": 2.5}, "value": 1.2}}}
  },
  "layer": [
   {"transform": [{"filter": "datum.s == 'solid'"}], "mark": {"type": "line", "color": "#3a3a3a", "strokeWidth": 2.2, "interpolate": "monotone", "clip": true}},
   {"transform": [{"filter": "datum.s == 'dotted'"}], "mark": {"type": "line", "color": "#3a3a3a", "strokeWidth": 1.6, "strokeDash": [1.6, 2.2], "interpolate": "monotone", "clip": true}},
   {"mark": {"type": "text", "align": "center", "baseline": "middle"}, "encoding": {"x": {"datum": 19.0}, "y": {"datum": 0.17}, "text": {"value": "(c)"}}}
  ]
 }
]},
{"spacing": 11, "vconcat": [
 {"width": 502, "height": 148, "data": {"name": "d"},
  "encoding": {
   "x": {"field": "f", "type": "quantitative", "scale": {"domain": [0, 20], "nice": false, "zero": false}, "axis": {"values": [0,1,2,3,4,5,6,7,8,9,10,11,12,13,14,15,16,17,18,19], "labels": false, "tickSize": 6, "tickWidth": 1.5}},
   "y": {"field": "v", "type": "quantitative", "scale": {"domain": [0, 1], "nice": false, "zero": false}, "axis": {"values": [0,0.05,0.1,0.15,0.2,0.25,0.3,0.35,0.4,0.45,0.5,0.55,0.6,0.65,0.7,0.75,0.8,0.85,0.9,0.95,1], "labelOverlap": false, "labelFlush": false, "labelExpr": "datum.value==0?'0':(abs(datum.value*5-round(datum.value*5))<0.001?replace(format(datum.value,'.1f'),'.',','):'')", "tickSize": {"condition": {"test": "abs(datum.value*5-round(datum.value*5))<0.001", "value": 6}, "value": 3}, "tickWidth": 1.3}}
  },
  "layer": [
   {"transform": [{"filter": "datum.s == 'solid'"}], "mark": {"type": "line", "color": "#3a3a3a", "strokeWidth": 2.2, "interpolate": "monotone", "clip": true}},
   {"transform": [{"filter": "datum.s == 'dotted'"}], "mark": {"type": "line", "color": "#3a3a3a", "strokeWidth": 1.6, "strokeDash": [1.6, 2.2], "interpolate": "monotone", "clip": true}},
   {"mark": {"type": "text", "align": "center", "baseline": "middle"}, "encoding": {"x": {"datum": 18.95}, "y": {"datum": 0.78}, "text": {"value": "(d)"}}}
  ]
 },
 {"width": 502, "height": 162, "data": {"name": "e"},
  "encoding": {
   "x": {"field": "f", "type": "quantitative", "scale": {"domain": [0, 20], "nice": false, "zero": false}, "axis": {"values": [0,1,2,3,4,5,6,7,8,9,10,11,12,13,14,15,16,17,18,19,19.55], "labelOverlap": false, "labelFlush": false, "labelExpr": "datum.value==19.55?'Hz':(datum.value%4==0?datum.label:'')", "tickSize": 6, "tickWidth": 1.5, "tickOpacity": {"condition": {"test": "datum.value==19.55", "value": 0}, "value": 1}, "labelPadding": 2}},
   "y": {"field": "v", "type": "quantitative", "scale": {"domain": [-3.63, 3.5], "nice": false, "zero": false}, "axis": {"values": [-3.5,-3.25,-3,-2.75,-2.5,-2.25,-2,-1.75,-1.5,-1.25,-1,-0.75,-0.5,-0.25,0,0.25,0.5,0.75,1,1.25,1.5,1.75,2,2.25,2.5,2.75,3,3.25,3.5], "labelOverlap": false, "labelFlush": false, "labelExpr": "abs(datum.value+0.5-round(datum.value+0.5))<0.001?replace(format(datum.value,'.1f'),'.',','):''", "tickSize": {"condition": {"test": "abs(datum.value+0.5-round(datum.value+0.5))<0.001", "value": 6}, "value": 3}, "tickWidth": 1.3}}
  },
  "layer": [
   {"transform": [{"filter": "datum.s == 'solid'"}], "mark": {"type": "line", "color": "#3a3a3a", "strokeWidth": 2.2, "interpolate": "monotone", "clip": true}},
   {"transform": [{"filter": "datum.s == 'dotted'"}], "mark": {"type": "line", "color": "#3a3a3a", "strokeWidth": 1.6, "strokeDash": [1.6, 2.2], "interpolate": "monotone", "clip": true}}
  ]
 }
]}
]
}
